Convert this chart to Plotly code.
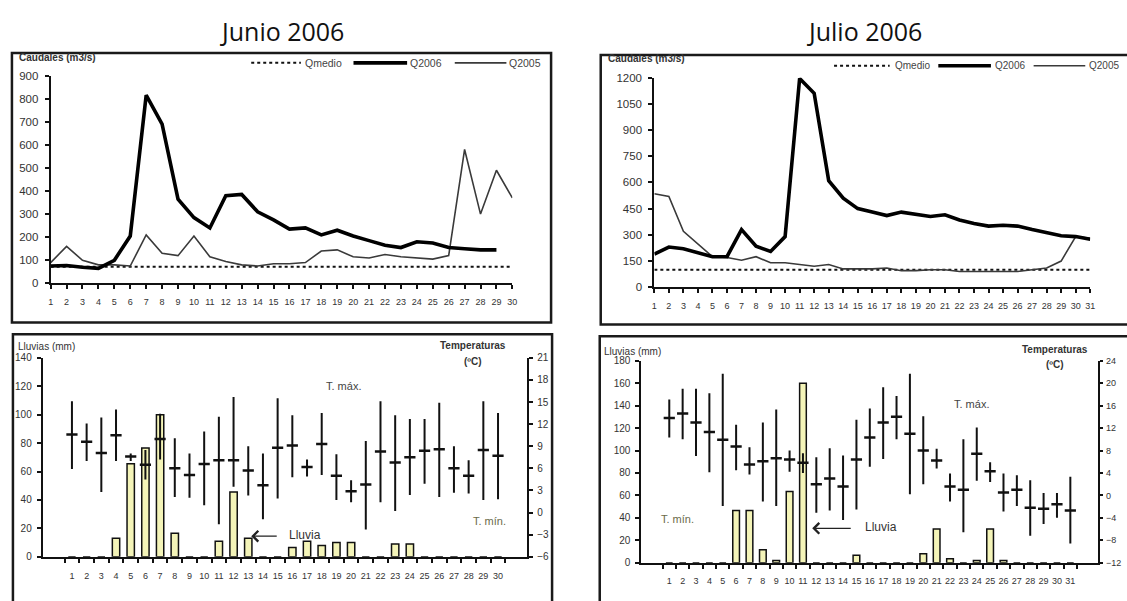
import plotly.graph_objects as go

W, H = 1127, 601

# ---------------- data ----------------
days_jun = list(range(1, 31))
days_jul = list(range(1, 32))

qmedio_jun = 72
q2006_jun = [75, 77, 70, 65, 100, 205, 815, 690, 365, 285, 240, 380, 385, 310, 275,
             235, 240, 210, 230, 205, 185, 165, 155, 180, 175, 155, 150, 145, 145]
q2005_jun = [90, 160, 100, 80, 80, 75, 210, 130, 120, 205, 115, 95, 80, 75, 85,
             85, 90, 140, 145, 115, 110, 125, 115, 110, 105, 120, 580, 300, 490, 370]

qmedio_jul = 100
q2006_jul = [190, 230, 220, 195, 175, 175, 330, 235, 205, 290, 1195, 1110, 610, 510, 450,
             430, 410, 430, 415, 405, 415, 385, 365, 350, 355, 350, 330, 310, 295, 290, 275]
q2005_jul = [535, 520, 320, 250, 175, 170, 155, 175, 140, 140, 130, 120, 130, 105, 105,
             105, 110, 95, 95, 100, 100, 90, 90, 90, 90, 90, 100, 110, 150, 290, 280]

rain_jun = [0, 0, 0, 13, 65.5, 76.5, 100, 16.5, 0, 0, 11, 45.5, 13, 0, 0,
            6.5, 11, 8, 10, 10, 0, 0, 9, 9, 0, 0, 0, 0, 0, 0]
tmax_jun = [15.1, 12.1, 12.9, 14.0, 8.0, 8.5, 13.4, 10.1, 8.0, 11.0, 13.0, 15.7, 9.0, 8.0, 15.5,
            13.2, 7.2, 13.5, 7.9, 4.4, 9.7, 15.1, 13.2, 12.7, 12.7, 14.9, 9.0, 7.1, 15.1, 13.5]
tmin_jun = [5.9, 7.0, 2.8, 7.0, 7.0, 4.5, 7.2, 2.1, 2.0, 1.0, -1.6, 3.5, 2.3, -0.9, 1.9,
            4.8, 4.9, 5.1, 1.7, 1.4, -2.3, 1.4, 0.2, 2.4, 3.9, 2.1, 2.7, 2.6, 1.7, 1.8]
tmed_jun = [10.6, 9.6, 8.1, 10.5, 7.6, 6.5, 10.0, 6.0, 5.1, 6.6, 7.1, 7.1, 5.7, 3.7, 8.8,
            9.1, 6.2, 9.3, 5.0, 2.9, 3.8, 8.3, 6.8, 7.5, 8.4, 8.6, 6.0, 5.0, 8.5, 7.7]

rain_jul = [0, 0, 0, 0, 0, 46.5, 46.5, 11.5, 2, 63.5, 160, 0, 0, 0, 6.5,
            0, 0, 0, 0, 8, 30, 3.5, 0, 2, 30, 2, 0, 0, 0, 0, 0]
tmax_jul = [17.1, 19.0, 19.0, 18.2, 21.7, 12.6, 8.6, 13.0, 15.3, 8.0, 7.5, 6.8, 8.4, 7.1, 13.5,
            15.5, 19.3, 17.7, 21.7, 14.1, 8.3, 3.9, 10.0, 12.1, 5.9, 3.9, 3.6, 2.7, 0.4, 0.4, 3.3]
tmin_jul = [10.3, 10.0, 7.0, 4.1, -1.9, 4.5, 3.7, -1.1, -1.9, 4.2, 4.0, -3.1, -2.7, -4.4, -2.5,
            5.1, 6.5, 10.0, 0.2, 2.0, 4.8, -1.1, -6.6, 2.6, 2.4, -2.9, -1.9, -7.2, -5.1, -4.0, -8.6]
tmed_jul = [13.8, 14.6, 13.0, 11.3, 9.9, 8.7, 5.5, 6.1, 6.6, 6.4, 5.8, 2.0, 3.0, 1.6, 6.4,
            10.3, 13.0, 14.0, 11.0, 8.0, 6.2, 1.6, 1.0, 7.4, 4.3, 0.5, 1.0, -2.2, -2.4, -1.6, -2.7]

titles = ["Junio 2006", "Julio 2006"]

# ---------------- helpers ----------------
def px(x):
    return x / W

def py(y):
    return 1 - y / H

def seg(days, lo, hi):
    xs, ys = [], []
    for d, a, b in zip(days, lo, hi):
        xs += [str(d), str(d), None]
        ys += [a, b, None]
    return xs, ys

TXT = "#333333"
FONT = "Liberation Sans, Arial, sans-serif"

fig = go.Figure()

# ---------- Caudales (top) ----------
for days, qm, q6, q5, xa, ya in [
    (days_jun, qmedio_jun, q2006_jun, q2005_jun, "x", "y"),
    (days_jul, qmedio_jul, q2006_jul, q2005_jul, "x2", "y2"),
]:
    fig.add_trace(go.Scatter(x=days, y=[qm] * len(days), mode="lines", name="Qmedio",
                             line=dict(color="#111", width=2, dash="dot"),
                             xaxis=xa, yaxis=ya, showlegend=False))
    fig.add_trace(go.Scatter(x=days[:len(q5)], y=q5, mode="lines", name="Q2005",
                             line=dict(color="#3a3a3a", width=1.6),
                             xaxis=xa, yaxis=ya, showlegend=False))
    fig.add_trace(go.Scatter(x=days[:len(q6)], y=q6, mode="lines", name="Q2006",
                             line=dict(color="#000", width=3.6),
                             xaxis=xa, yaxis=ya, showlegend=False))

# ---------- Lluvias / Temperaturas (bottom) ----------
for days, rain, tmax, tmin, tmed, xa, yl, yr in [
    (days_jun, rain_jun, tmax_jun, tmin_jun, tmed_jun, "x3", "y3", "y5"),
    (days_jul, rain_jul, tmax_jul, tmin_jul, tmed_jul, "x4", "y4", "y6"),
]:
    cats = [str(d) for d in days]
    fig.add_trace(go.Bar(x=cats, y=rain, name="Lluvia", width=0.5,
                         marker=dict(color="#f4f4b8", line=dict(color="#111", width=1.5)),
                         xaxis=xa, yaxis=yl, showlegend=False))
    sx, sy = seg(days, tmin, tmax)
    fig.add_trace(go.Scatter(x=sx, y=sy, mode="lines", name="T. max - T. min",
                             line=dict(color="#111", width=2),
                             xaxis=xa, yaxis=yr, showlegend=False))
    fig.add_trace(go.Scatter(x=cats, y=tmed, mode="markers", name="T. media",
                             marker=dict(symbol="line-ew", size=8,
                                         line=dict(color="#111", width=2.5)),
                             xaxis=xa, yaxis=yr, showlegend=False))

# ---------------- axes ----------------
base = dict(showline=True, linecolor="#111", linewidth=2, showgrid=False, zeroline=False,
            ticks="outside", tickcolor="#111", tickwidth=2, ticklen=4, tickangle=0,
            tickfont=dict(family=FONT, size=9, color=TXT), fixedrange=True)

ybase = dict(base)
ybase["tickfont"] = dict(family=FONT, size=11.5, color=TXT)

yb2 = dict(base)
yb2["tickfont"] = dict(family=FONT, size=10, color=TXT)

yb3 = dict(base)
yb3["tickfont"] = dict(family=FONT, size=9, color=TXT)

fig.update_layout(
    xaxis=dict(base, domain=[px(48), px(513)], range=[1, 30], dtick=1, anchor="y",
               ticklabelstandoff=5),
    yaxis=dict(ybase, domain=[py(283), py(71)], range=[0, 900], dtick=100, anchor="x",
               ticklabelstandoff=4),
    xaxis2=dict(base, domain=[px(656), px(1095)], range=[1, 31], dtick=1, anchor="y2",
                ticklabelstandoff=5),
    yaxis2=dict(ybase, domain=[py(287), py(73)], range=[0, 1200], dtick=150, anchor="x2",
                ticklabelstandoff=4),
    xaxis3=dict(base, domain=[px(40), px(528)], type="category", tickson="boundaries",
                anchor="y3", ticklabelstandoff=9),
    yaxis3=dict(yb2, domain=[py(562), py(359)], range=[0, 140], dtick=20, anchor="x3",
                ticklabelstandoff=3),
    yaxis5=dict(yb2, range=[-6, 21], dtick=3, anchor="x3", overlaying="y3", side="right",
                ticklabelstandoff=2),
    xaxis4=dict(base, domain=[px(643), px(1103)], type="category", tickson="boundaries",
                anchor="y4", ticklabelstandoff=9),
    yaxis4=dict(yb2, domain=[py(568), py(362)], range=[0, 180], dtick=20, anchor="x4",
                ticklabelstandoff=3),
    yaxis6=dict(yb3, range=[-12, 24], dtick=4, anchor="x4", overlaying="y4", side="right",
                ticklen=3, ticklabelstandoff=1),
)

# ---------------- frames, titles, legends, labels ----------------
shapes = []
for x0, y0, x1, y1 in [(9, 48, 552, 323), (602, 50, 1140, 325),
                       (10, 335, 553, 612), (601, 337, 1140, 612)]:
    shapes.append(dict(type="rect", xref="paper", yref="paper",
                       x0=px(x0), y0=py(y1), x1=px(x1), y1=py(y0),
                       line=dict(color="#1a1a1a", width=2.5), fillcolor="rgba(0,0,0,0)"))

annotations = []

def text(x, y, s, size=10, color=TXT, anchor="left", bold=False, family=FONT):
    annotations.append(dict(x=px(x), y=py(y), xref="paper", yref="paper",
                            text=("<b>%s</b>" % s) if bold else s, showarrow=False,
                            xanchor=anchor, yanchor="middle",
                            font=dict(family=family, size=size, color=color)))

# titles
text(281, 26, titles[0], size=25, color="#111", anchor="center", family="Open Sans, sans-serif")
text(868, 26, titles[1], size=25, color="#111", anchor="center", family="Open Sans, sans-serif")

# legends (manual, one per top chart)
for (d0, d1, tq, l0, l1, t6, n0, n1, t5, ly, fs) in [
    (250, 300, 302, 353, 407, 408, 455, 507, 508, 58, 10.5),
    (837, 893, 896, 942, 995, 997, 1038, 1090, 1092, 61, 10),
]:
    shapes.append(dict(type="line", xref="paper", yref="paper", x0=px(d0), x1=px(d1),
                       y0=py(ly), y1=py(ly), line=dict(color="#111", width=2, dash="dot")))
    shapes.append(dict(type="line", xref="paper", yref="paper", x0=px(l0), x1=px(l1),
                       y0=py(ly), y1=py(ly), line=dict(color="#000", width=3.6)))
    shapes.append(dict(type="line", xref="paper", yref="paper", x0=px(n0), x1=px(n1),
                       y0=py(ly), y1=py(ly), line=dict(color="#3a3a3a", width=1.6)))
    text(tq, ly, "Qmedio", size=fs, color="#444")
    text(t6, ly, "Q2006", size=fs, color="#444")
    text(t5, ly, "Q2005", size=fs, color="#444")

# axis captions
text(14, 53, "Caudales (m3/s)", size=10, color="#333", bold=True)
text(607, 54, "Caudales (m3/s)", size=10, color="#333", bold=True)
text(13, 347, "Lluvias (mm)", size=10, color="#333")
text(603, 353, "Lluvias (mm)", size=10, color="#333")
text(473, 346, "Temperaturas", size=10, color="#333", anchor="center", bold=True)
text(473, 363, "(ºC)", size=10, color="#333", anchor="center", bold=True)
text(1060, 350, "Temperaturas", size=10, color="#333", anchor="center", bold=True)
text(1060, 366, "(ºC)", size=10, color="#333", anchor="center", bold=True)

# chart notes
text(323, 388, "T. máx.", size=11, color="#444")
text(471, 525, "T. mín.", size=11, color="#6b6b4a")
text(286, 540, "Lluvia", size=12, color="#333")
text(956, 406, "T. máx.", size=11, color="#444")
text(661, 523, "T. mín.", size=11, color="#6b6b4a")
text(866, 532, "Lluvia", size=12, color="#333")

for hx, hy, tail in [(250, 541, 27), (815, 533, 40)]:
    annotations.append(dict(x=px(hx), y=py(hy), xref="paper", yref="paper", text="",
                            showarrow=True, ax=tail, ay=0, arrowhead=4, arrowsize=1.6,
                            arrowwidth=1.3, arrowcolor="#222"))

fig.update_layout(
    width=W, height=H, margin=dict(l=0, r=0, t=0, b=0),
    paper_bgcolor="white", plot_bgcolor="white",
    shapes=shapes, annotations=annotations, showlegend=False,
    bargap=0.5,
)

fig.write_html("out.html", config={"displayModeBar": False},
               post_script="document.body.style.margin='0px';document.body.style.overflow='hidden';")
